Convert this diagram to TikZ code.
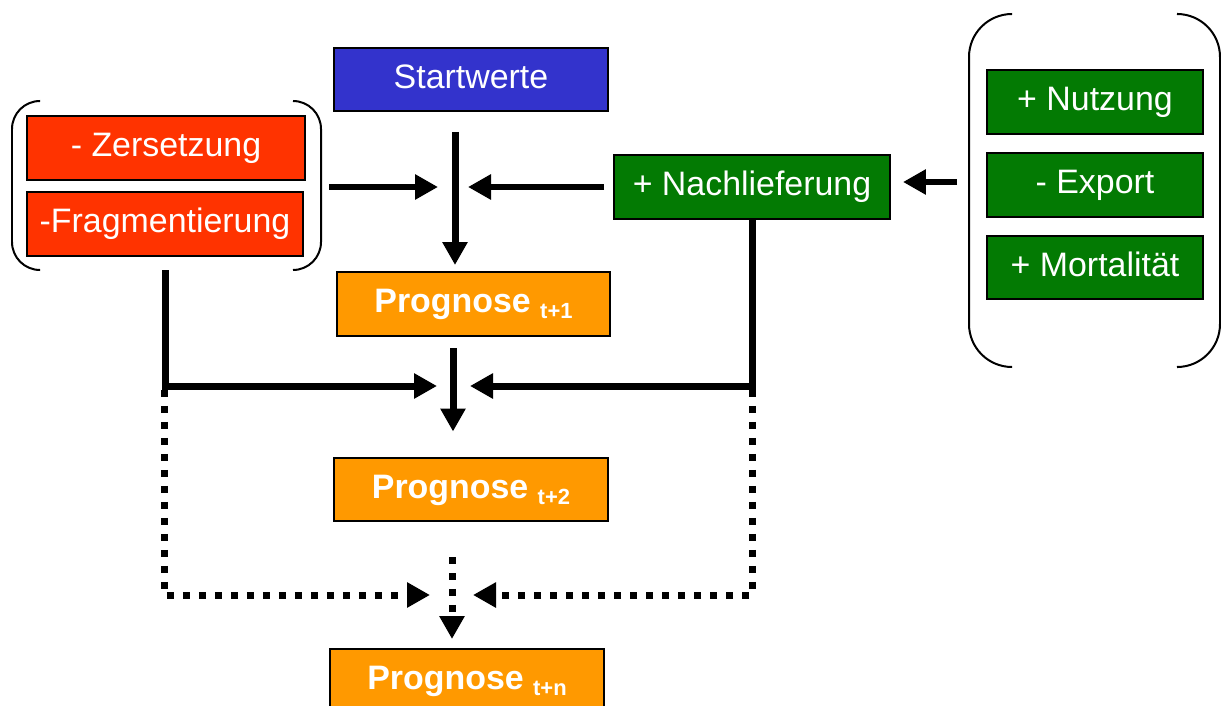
\documentclass[tikz,border=0pt]{standalone}
\usepackage{fontspec}
\setmainfont{Liberation Sans}
\usetikzlibrary{arrows.meta}

\definecolor{azul}{RGB}{51,51,204}
\definecolor{rojo}{RGB}{255,51,0}
\definecolor{verde}{RGB}{3,122,3}
\definecolor{naranja}{RGB}{255,153,0}

\newcommand{\prognose}[1]{\textbf{Prognose \raisebox{-0.18em}{\fontsize{12.5}{14}\selectfont #1}}}

\tikzset{
  caja/.style={draw=black, line width=0.04cm, text=white, inner sep=0pt,
    minimum width=5.48cm, minimum height=1.28cm,
    text height=14.5pt, text depth=4.8pt, font=\fontsize{19.3}{23}\selectfont},
  flecha/.style={line width=0.14cm, -{Triangle[width=0.48cm,length=0.46cm]}},
  puntos/.style={flecha, dash pattern=on 0.14cm off 0.18cm},
  corchete/.style={line width=0.04cm}
}

\begin{document}
\begin{tikzpicture}[x=0.02cm, y=-0.02cm]
\useasboundingbox (0,0) rectangle (1221,706);
\clip (0,0) rectangle (1221,706);

% Cajas
\node [caja, fill=azul] (start) at (471,79.5) {Startwerte};
\node [caja, fill=rojo, minimum width=5.56cm] (zers) at (166,148) {- Zersetzung};
\node [caja, fill=rojo, minimum width=5.52cm] (frag) at (165,224) {-Fragmentierung};
\node [caja, fill=verde, minimum width=5.52cm] (nach) at (752,187) {+ Nachlieferung};
\node [caja, fill=verde, minimum width=4.32cm] (nutz) at (1095,102) {+ Nutzung};
\node [caja, fill=verde, minimum width=4.32cm] (expo) at (1095,185) {- Export};
\node [caja, fill=verde, minimum width=4.32cm] (mort) at (1095,267.5) {+ Mortalität};
\node [caja, fill=naranja] (prog1) at (473.5,304) {\prognose{t+1}};
\node [caja, fill=naranja] (prog2) at (471,489.5) {\prognose{t+2}};
\node [caja, fill=naranja] (progn) at (467,681) {\prognose{t+n}};

% Corchetes
\draw [corchete, rounded corners=0.56cm] (40,101) -- (12,101) -- (12,270) -- (40,270);
\draw [corchete, rounded corners=0.56cm] (293,101) -- (321,101) -- (321,270) -- (293,270);
\draw [corchete, rounded corners=0.86cm] (1012,14) -- (969,14) -- (969,367) -- (1012,367);
\draw [corchete, rounded corners=0.86cm] (1178,14) -- (1220,14) -- (1220,367) -- (1178,367);

% Puntos
\coordinate (a1) at (455,132);
\coordinate (kl) at (329,187);
\coordinate (m1) at (438,187);
\coordinate (m2) at (468,187);
\coordinate (rk) at (957,182);
\coordinate (l1) at (165,270);
\coordinate (m3) at (437,386);
\coordinate (m4) at (470,386);
\coordinate (a2) at (453,348);
\coordinate (l2) at (164,390);
\coordinate (r2) at (752,390);
\coordinate (m5) at (430,595);
\coordinate (m6) at (473,595);
\coordinate (a3) at (452,557);

% Flechas
\draw [flecha, shorten >=0.12cm] (a1) -- (a1 |- prog1.north);
\draw [flecha] (kl) -- (m1);
\draw [flecha, shorten <=0.18cm] (nach.west) -- (m2);
\draw [flecha, shorten >=0.24cm] (rk) -- (rk -| nach.east);
\draw [flecha] (l1) |- (m3);
\draw [flecha] (nach.south) |- (m4);
\draw [flecha, shorten >=0.5cm] (a2) -- (a2 |- prog2.north);
\draw [puntos] (l2) |- (m5);
\draw [puntos] (r2) |- (m6);
\draw [puntos, shorten >=0.18cm] (a3) -- (a3 |- progn.north);
\end{tikzpicture}
\end{document}
